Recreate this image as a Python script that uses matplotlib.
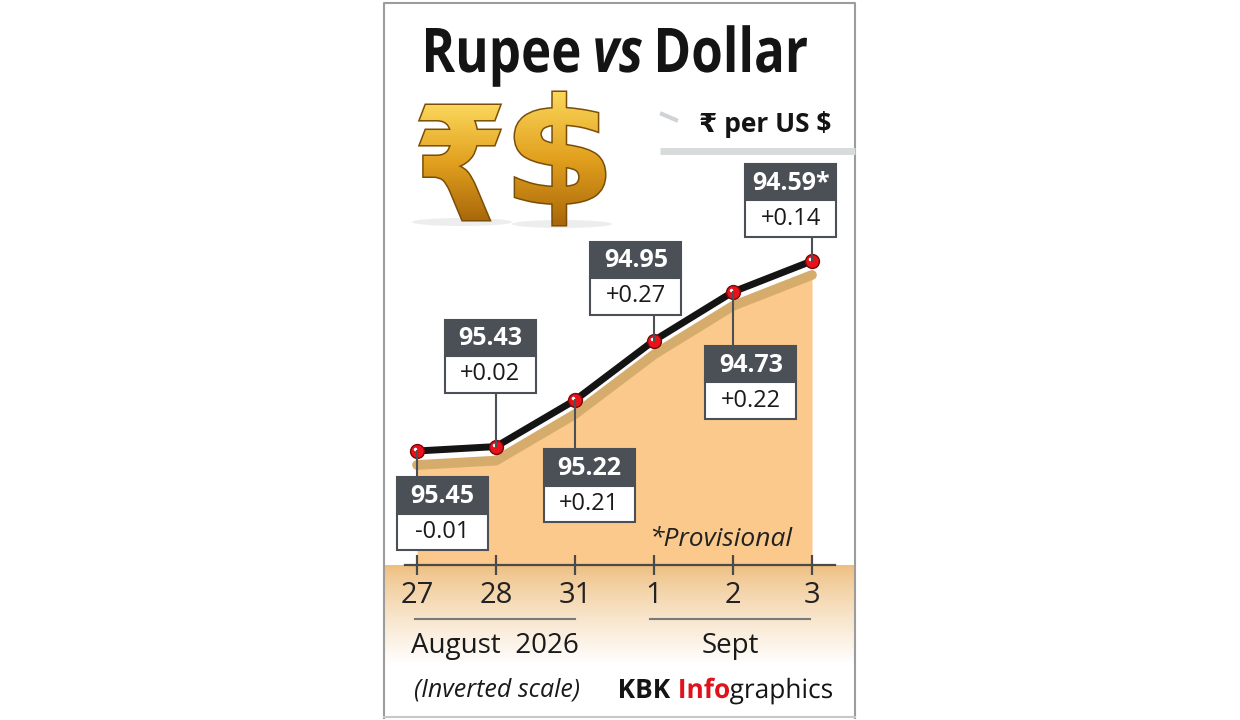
import numpy as np
import matplotlib
matplotlib.use("Agg")
import matplotlib.pyplot as plt
from matplotlib.patches import Rectangle, PathPatch, Ellipse
from matplotlib.transforms import ScaledTranslation, Affine2D
from matplotlib.textpath import TextPath
from matplotlib.font_manager import FontProperties

# data
days = ["27", "28", "31", "1", "2", "3"]
rates = [95.45, 95.43, 95.22, 94.95, 94.73, 94.59]
changes = ["-0.01", "+0.02", "+0.21", "+0.27", "+0.22", "+0.14"]
rate_labels = ["95.45", "95.43", "95.22", "94.95", "94.73", "94.59*"]

# label box placement relative to each point (pixels)
box_dx = [25, -6, 14, -18, 18, -21]
box_dy = [26, -127, 49, -99, 54, -97]
BOX_W, BOX_H = 91, 73

DARK = "#4a5056"
FILL = "#fbc98b"
SHADOW = "#d6ac6d"
FONT = ["Open Sans", "DejaVu Sans"]

W, H = 1240, 720
fig = plt.figure(figsize=(W / 100, H / 100), dpi=100)

# background overlay in pixel coordinates
bg = fig.add_axes([0, 0, 1, 1], zorder=0)
bg.set_xlim(0, W)
bg.set_ylim(H, 0)
bg.axis("off")

# orange band fading to white under the axis
rows = 100
t = np.linspace(0, 1, rows) ** 0.8
top_col = np.array([238, 190, 126]) / 255
grad = np.zeros((rows, 1, 3))
for i in range(rows):
    grad[i, 0] = top_col * (1 - t[i]) + np.ones(3) * t[i]
bg.imshow(grad, extent=(385, 855, 665, 565), aspect="auto", origin="upper", zorder=0)

# panel border
bg.plot([384, 384, 855, 855], [718, 3, 3, 718], color="#9c9c9c", lw=1.5, zorder=1)
bg.plot([384, 855], [717, 717], color="#c8c8c8", lw=1.5, zorder=1)

# chart axes
x_px = (417, 79)   # pixel of first point, spacing
left_px, right_px, top_px, base_px = 385, 855, 160, 565
ax = fig.add_axes([left_px / W, (H - base_px) / H, (right_px - left_px) / W, (base_px - top_px) / H], zorder=1)
ax.patch.set_visible(False)
px_per_unit = 221.0
ax.set_xlim((left_px - x_px[0]) / x_px[1], (right_px - x_px[0]) / x_px[1])
ax.set_ylim(rates[0] + (base_px - 451) / px_per_unit, rates[0] - (451 - top_px) / px_per_unit)

x = np.arange(len(days))
shift = ax.transData + ScaledTranslation(0, -14 / 100, fig.dpi_scale_trans)
ax.fill_between(x, rates, 97, color=FILL, lw=0, transform=shift, zorder=1)
ax.plot(x, rates, color=SHADOW, lw=7, solid_capstyle="round", transform=shift, zorder=2)
ax.plot(x, rates, color="#141414", lw=5, solid_joinstyle="round", zorder=3)
ax.plot(x, rates, "o", ms=10, mfc="#e8121a", mec="#7a0808", mew=1, zorder=4)
hl = ax.transData + ScaledTranslation(-2 / 100, 2 / 100, fig.dpi_scale_trans)
ax.plot(x, rates, "o", ms=2.5, mfc="white", mec="none", transform=hl, zorder=5)

for s in ["top", "left", "right"]:
    ax.spines[s].set_visible(False)
ax.spines["bottom"].set_color("#4a4a4a")
ax.spines["bottom"].set_linewidth(1.6)
ax.spines["bottom"].set_bounds((405 - x_px[0]) / x_px[1], (835 - x_px[0]) / x_px[1])
ax.spines["bottom"].set_zorder(6)
ax.set_yticks([])
ax.set_xticks(x, days)
ax.tick_params(axis="x", direction="inout", length=15, width=1.6, color="#4a4a4a",
               pad=4, labelsize=21, labelcolor="#222222")
for lab in ax.get_xticklabels():
    lab.set_fontfamily(FONT)

# foreground overlay in pixel coordinates
fg = fig.add_axes([0, 0, 1, 1], zorder=2)
fg.set_xlim(0, W)
fg.set_ylim(H, 0)
fg.axis("off")
fg.patch.set_visible(False)

to_px = ax.transData + fg.transData.inverted()
for i in range(len(days)):
    px, py = to_px.transform((x[i], rates[i]))
    cx = px + box_dx[i]
    top = py + box_dy[i]
    if top > py:
        fg.plot([px, px], [py, top], color=DARK, lw=1.5, zorder=1)
    else:
        fg.plot([px, px], [py, top + BOX_H], color=DARK, lw=1.5, zorder=1)
    fg.add_patch(Rectangle((cx - BOX_W / 2, top), BOX_W, BOX_H / 2, facecolor=DARK,
                           edgecolor=DARK, lw=1.5, zorder=2))
    fg.add_patch(Rectangle((cx - BOX_W / 2, top + BOX_H / 2), BOX_W, BOX_H / 2,
                           facecolor="white", edgecolor=DARK, lw=1.5, zorder=2))
    fg.text(cx, top + BOX_H / 4 + 1, rate_labels[i], color="white", fontsize=18,
            fontweight="bold", family=FONT, ha="center", va="center", zorder=3)
    fg.text(cx, top + 3 * BOX_H / 4, changes[i], color="#1a1a1a", fontsize=17,
            family=FONT, ha="center", va="center", zorder=3)


def narrow_run(parts, x0, x1, baseline, cap_px, gaps):
    """Squeeze a run of text paths so it fills x0..x1 with the given cap height."""
    size = cap_px / 0.714
    paths = []
    for s, weight, style, color in parts:
        fp = FontProperties(family="Open Sans", weight=weight, style=style)
        tp = TextPath((0, 0), s, size=size, prop=fp)
        ext = tp.get_extents()
        paths.append((tp, ext, color))
    widths = [e.x1 - e.x0 for _, e, _ in paths]
    sx = (x1 - x0 - sum(gaps)) / sum(widths)
    xs = x0
    for k, ((tp, ext, color), w) in enumerate(zip(paths, widths)):
        tr = Affine2D().translate(-ext.x0, 0).scale(sx, -1).translate(xs, baseline)
        fg.add_patch(PathPatch(tr.transform_path(tp), facecolor=color, lw=0, zorder=3))
        xs += w * sx + (gaps[k] if k < len(gaps) else 0)


# title
narrow_run([("Rupee", "bold", "normal", "#141414"),
            ("vs", "bold", "italic", "#141414"),
            ("Dollar", "bold", "normal", "#141414")],
           426, 807, 72, 44, gaps=[16, 16])

# gold symbols with a vertical gradient
fg.add_patch(Ellipse((462, 222), 100, 8, color="#e2e2e2", alpha=0.6, lw=0, zorder=1))
fg.add_patch(Ellipse((562, 224), 100, 8, color="#e2e2e2", alpha=0.6, lw=0, zorder=1))
gold = np.zeros((60, 1, 3))
g_top = np.array([250, 214, 90]) / 255
g_mid = np.array([226, 160, 30]) / 255
g_bot = np.array([170, 105, 10]) / 255
for i in range(60):
    f = i / 59
    gold[i, 0] = g_top * (1 - 2 * f) + g_mid * 2 * f if f < 0.5 else g_mid * (2 - 2 * f) + g_bot * (2 * f - 1)
for sym, (sx0, sx1, sy0, sy1) in [("\u20b9", (420, 500, 105, 220)), ("$", (515, 605, 92, 225))]:
    tp = TextPath((0, 0), sym, size=100, prop=FontProperties(family="DejaVu Sans", weight="bold"))
    e = tp.get_extents()
    tr = (Affine2D().translate(-e.x0, -e.y1)
          .scale((sx1 - sx0) / (e.x1 - e.x0), -(sy1 - sy0) / (e.y1 - e.y0))
          .translate(sx0, sy0))
    gp = tr.transform_path(tp)
    edge = PathPatch(gp, facecolor="none", edgecolor="#7a4e06", lw=2.2, zorder=2)
    fg.add_patch(edge)
    im = fg.imshow(gold, extent=(sx0, sx1, sy1, sy0), aspect="auto", origin="upper", zorder=2.5)
    clip = PathPatch(gp, facecolor="none", lw=0, transform=fg.transData)
    fg.add_patch(clip)
    im.set_clip_path(clip)
fg.set_xlim(0, W)
fg.set_ylim(H, 0)

# unit label
fg.plot([662, 676], [114, 120], color="#cfd3d5", lw=3)
fg.plot([660, 855], [151, 151], color="#d7dbdc", lw=5, solid_capstyle="butt")
fg.text(765, 125, "\u20b9 per US $", fontsize=19, fontweight="bold", family=FONT,
        color="#141414", ha="center", va="center")

# notes and month labels
fg.text(721, 540, "*Provisional", fontsize=19, fontstyle="italic", family=FONT,
        color="#222222", ha="center", va="center")
fg.plot([415, 575], [619, 619], color="#7a7a7a", lw=1.5)
fg.plot([650, 810], [619, 619], color="#7a7a7a", lw=1.5)
fg.text(495, 646, "August  2026", fontsize=20, family=FONT, color="#1a1a1a",
        ha="center", va="center")
fg.text(730, 646, "Sept", fontsize=20, family=FONT, color="#1a1a1a",
        ha="center", va="center")
fg.text(497, 690, "(Inverted scale)", fontsize=18, fontstyle="italic", family=FONT,
        color="#1a1a1a", ha="center", va="center")
narrow_run([("KBK", "bold", "normal", "#141414"),
            ("Info", "bold", "normal", "#e0121b"),
            ("graphics", "normal", "normal", "#141414")],
           620, 832, 698, 19, gaps=[10, 1])

fig.savefig("out.png", dpi=100)
